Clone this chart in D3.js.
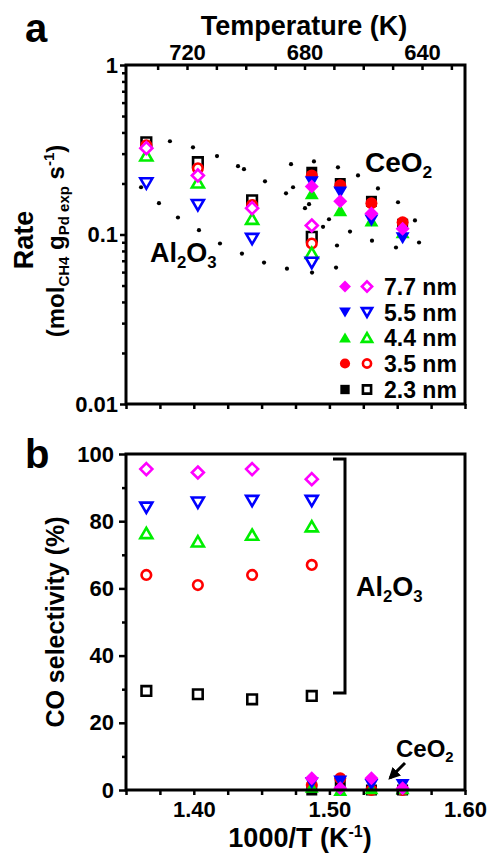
<!DOCTYPE html>
<html><head><meta charset="utf-8">
<script src="https://cdn.jsdelivr.net/npm/d3@7"></script>
<style>
body{margin:0;background:#fff}
svg{display:block}
text{font-family:"Liberation Sans",Arial,Helvetica,sans-serif;font-weight:bold;fill:#000}
</style>
</head><body>
<svg id="chart" width="491" height="855"></svg>
<script>
// ---------- DATA ----------
const xAl = [1.365, 1.403, 1.443, 1.487];          // 1000/T, Pd/Al2O3 (open symbols)
const xCe = [1.487, 1.508, 1.531, 1.554];          // 1000/T, Pd/CeO2 (filled symbols)
const sizeLabels = ["7.7 nm", "5.5 nm", "4.4 nm", "3.5 nm", "2.3 nm"];

// Rate (mol CH4 / g Pd exp / s)
const rateAl_77 = [0.323, 0.223, 0.143, 0.113];
const rateAl_55 = [0.200, 0.149, 0.094, 0.068];
const rateAl_44 = [0.293, 0.203, 0.124, 0.078];
const rateAl_35 = [0.336, 0.246, 0.149, 0.0885];
const rateAl_23 = [0.350, 0.267, 0.159, 0.097];
const rateCe_77 = [0.192, 0.157, 0.133, 0.108];
const rateCe_55 = [0.203, 0.177, 0.121, 0.095];
const rateCe_44 = [0.175, 0.139, 0.121, 0.103];
const rateCe_35 = [0.223, 0.195, 0.153, 0.118];
const rateCe_23 = [0.233, 0.200, 0.157, 0.115];

// CO selectivity (%)
const selAl_77 = [95.5, 94.5, 95.5, 92.5];
const selAl_55 = [84.0, 85.5, 86.0, 86.0];
const selAl_44 = [76.5, 74.0, 76.0, 78.5];
const selAl_35 = [64.0, 61.0, 64.0, 67.0];
const selAl_23 = [29.5, 28.5, 27.0, 28.0];
const selCe_77 = [3.5, 0.5, 3.5, 0.5];
const selCe_55 = [2.0, 2.5, 1.5, 1.5];
const selCe_44 = [1.0, 0.0, 0.5, 0.5];
const selCe_35 = [1.5, 3.5, 0.0, 0.0];
const selCe_23 = [0.0, 2.0, 0.0, 0.0];

// dotted guide curves in the rate panel (1000/T, rate)
const guideAlUpperX = [1.3824, 1.3994, 1.4171, 1.4326, 1.4370, 1.4525, 1.4680, 1.4820, 1.4953, 1.5056];
const guideAlUpperY = [0.355, 0.327, 0.290, 0.253, 0.243, 0.206, 0.175, 0.143, 0.111, 0.0861];
const guideAlLowerX = [1.3611, 1.3743, 1.3883, 1.4038, 1.4193, 1.4355, 1.4518, 1.4687, 1.4872, 1.5049];
const guideAlLowerY = [0.190, 0.153, 0.126, 0.106, 0.0885, 0.0772, 0.0683, 0.0629, 0.0596, 0.0638];
const guideCeUpperX = [1.4717, 1.4886, 1.5063, 1.5211, 1.5358, 1.5506, 1.5631, 1.5661];
const guideCeUpperY = [0.260, 0.270, 0.249, 0.223, 0.187, 0.155, 0.121, 0.0897];
const guideCeLowerX = [1.4732, 1.4850, 1.4997, 1.5152, 1.5314, 1.5491];
const guideCeLowerY = [0.190, 0.151, 0.123, 0.104, 0.092, 0.0838];

// axis ticks
const xTicksMinor = [1.35, 1.375, 1.40, 1.425, 1.45, 1.475, 1.50, 1.525, 1.55, 1.575, 1.60];
const xTickLabels = [1.40, 1.50, 1.60];
const tempTicks = [730, 720, 710, 700, 690, 680, 670, 660, 650, 640, 630];
const tempTickLabels = [720, 680, 640];
const rateTickLabels = [1, 0.1, 0.01];
const selTicks = [0, 10, 20, 30, 40, 50, 60, 70, 80, 90, 100];
const selTickLabels = [0, 20, 40, 60, 80, 100];

// ---------- STYLE ----------
const colors = ["#ff00ff", "#0000ff", "#00ee00", "#ff0000", "#000000"];
const shapes = ["diamond", "tridown", "triup", "circle", "square"];
const ratesAl = [rateAl_77, rateAl_55, rateAl_44, rateAl_35, rateAl_23];
const ratesCe = [rateCe_77, rateCe_55, rateCe_44, rateCe_35, rateCe_23];
const selsAl = [selAl_77, selAl_55, selAl_44, selAl_35, selAl_23];
const selsCe = [selCe_77, selCe_55, selCe_44, selCe_35, selCe_23];

const svg = d3.select("#chart");
const L = 126, R = 465;
const x = d3.scaleLinear().domain([1.35, 1.60]).range([L, R]);
const yRate = d3.scaleLog().domain([0.01, 1]).range([404, 65]);
const ySel = d3.scaleLinear().domain([0, 100]).range([790, 454]);
const tScale = d3.scaleLinear().domain([720, 640]).range([187, 422]);

function mpath(shape, s) {
  const h = s * 0.86;
  switch (shape) {
    case "diamond": return `M0,${-s}L${s},0L0,${s}L${-s},0Z`;
    case "square": return `M${-s},${-s}H${s}V${s}H${-s}Z`;
    case "circle": return `M${s},0A${s},${s} 0 1,1 ${-s},0A${s},${s} 0 1,1 ${s},0Z`;
    case "triup": return `M0,${-h}L${s},${h}L${-s},${h}Z`;
    case "tridown": return `M0,${h}L${s},${-h}L${-s},${-h}Z`;
  }
}
const filledSize = {diamond: 7, square: 5.5, circle: 6, triup: 7, tridown: 7};
const openSize = {diamond: 6, square: 4.8, circle: 4.8, triup: 6, tridown: 6};

function drawMarker(g, cx, cy, i, filled, scale = 1) {
  const sh = shapes[i];
  const s = (filled ? filledSize[sh] : openSize[sh]) * scale;
  g.append("path")
    .attr("d", mpath(sh, s))
    .attr("transform", `translate(${cx},${cy})`)
    .attr("fill", filled ? colors[i] : "#fff")
    .attr("stroke", filled ? "none" : colors[i])
    .attr("stroke-width", filled ? 0 : 2.6)
    .attr("stroke-linejoin", "miter");
}

// ---------- PANEL A ----------
const gA = svg.append("g");

// guide dots
[[guideAlUpperX, guideAlUpperY], [guideAlLowerX, guideAlLowerY],
 [guideCeUpperX, guideCeUpperY], [guideCeLowerX, guideCeLowerY]].forEach(([gx, gy]) => {
  gx.forEach((v, k) => {
    gA.append("circle").attr("cx", x(v)).attr("cy", yRate(gy[k])).attr("r", 2.1).attr("fill", "#000");
  });
});

// markers (draw black first, magenta on top)
for (let i = 4; i >= 0; i--) {
  xAl.forEach((v, k) => drawMarker(gA, x(v), yRate(ratesAl[i][k]), i, false));
}
for (let i = 4; i >= 0; i--) {
  xCe.forEach((v, k) => drawMarker(gA, x(v), yRate(ratesCe[i][k]), i, true));
}

// frame
gA.append("rect").attr("x", L).attr("y", 65).attr("width", R - L).attr("height", 404 - 65)
  .attr("fill", "none").attr("stroke", "#000").attr("stroke-width", 3);

// top temperature axis
const tAxis = d3.axisTop(tScale).tickValues(tempTicks).tickSize(-5).tickPadding(5)
  .tickFormat(d => tempTickLabels.includes(d) ? d : "");
const gT = gA.append("g").attr("transform", "translate(0,65)").call(tAxis);
gT.select(".domain").remove();
gT.selectAll(".tick line").attr("stroke-width", 2.5);
gT.selectAll("text").style("font-size", "22px").filter(function () { return !this.textContent; }).remove();

// bottom ticks of panel a
const gAb = gA.append("g").attr("transform", "translate(0,404)")
  .call(d3.axisBottom(x).tickValues(xTicksMinor).tickSize(5).tickFormat(""));
gAb.select(".domain").remove();
gAb.selectAll("text").remove();
gAb.selectAll(".tick line").attr("stroke-width", 2.5);

// left log axis
const minorLog = [];
[0.01, 0.1].forEach(dec => { for (let m = 2; m <= 9; m++) minorLog.push(dec * m); });
const gAl = gA.append("g").attr("transform", `translate(${L},0)`)
  .call(d3.axisLeft(yRate).tickValues(rateTickLabels).tickSize(6).tickPadding(2)
    .tickFormat(d => String(d)));
gAl.select(".domain").remove();
gAl.selectAll(".tick line").attr("stroke-width", 2.5);
gAl.selectAll("text").style("font-size", "22px");
const gAm = gA.append("g").attr("transform", `translate(${L},0)`)
  .call(d3.axisLeft(yRate).tickValues(minorLog).tickSize(4).tickFormat(""));
gAm.select(".domain").remove();
gAm.selectAll("text").remove();
gAm.selectAll(".tick line").attr("stroke-width", 2.5);

// titles
svg.append("text").attr("x", 25).attr("y", 42).style("font-size", "40px").text("a");
svg.append("text").attr("x", 304).attr("y", 35).attr("text-anchor", "middle")
  .style("font-size", "27px").text("Temperature (K)");

svg.append("text").attr("transform", "translate(33,240) rotate(-90)")
  .attr("text-anchor", "middle").style("font-size", "27px").text("Rate");
const rt = svg.append("text").attr("transform", "translate(64,241) rotate(-90)")
  .attr("text-anchor", "middle").style("font-size", "24px");
rt.append("tspan").style("font-size", "24px").text("(mol");
rt.append("tspan").attr("dy", 5).style("font-size", "15px").text("CH4");
rt.append("tspan").attr("dy", -5).style("font-size", "24px").text(" g");
rt.append("tspan").attr("dy", 5).style("font-size", "15px").text("Pd exp");
rt.append("tspan").attr("dy", -5).style("font-size", "24px").text(" s");
rt.append("tspan").attr("dy", -10).style("font-size", "15px").text("-1");
rt.append("tspan").attr("dy", 10).style("font-size", "24px").text(")");

// chemical formula with subscripts
function chem(g, xx, yy, parts, size) {
  const t = g.append("text").attr("x", xx).attr("y", yy).style("font-size", size + "px");
  const sh = size * 0.22;
  let prevSub = false;
  parts.forEach(([s, sub]) => {
    let dy = 0;
    if (sub && !prevSub) dy = sh;
    if (!sub && prevSub) dy = -sh;
    t.append("tspan").attr("dy", dy).style("font-size", (sub ? size * 0.62 : size) + "px").text(s);
    prevSub = sub;
  });
  return t;
}
chem(gA, 150, 262, [["Al", false], ["2", true], ["O", false], ["3", true]], 27);
chem(gA, 365, 172, [["CeO", false], ["2", true]], 28);

// legend
const legY = [286.5, 312.5, 337.5, 363.5, 389.5];
sizeLabels.forEach((lab, i) => {
  drawMarker(gA, 345, legY[i], i, true, 0.85);
  drawMarker(gA, 367, legY[i], i, false, 0.85);
  gA.append("text").attr("x", 384).attr("y", legY[i] + 8).style("font-size", "23px").text(lab);
});

// ---------- PANEL B ----------
const gB = svg.append("g");
for (let i = 4; i >= 0; i--) {
  xAl.forEach((v, k) => drawMarker(gB, x(v), ySel(selsAl[i][k]), i, false));
}
for (let i = 4; i >= 0; i--) {
  xCe.forEach((v, k) => drawMarker(gB, x(v), ySel(selsCe[i][k]), i, true));
}

gB.append("rect").attr("x", L).attr("y", 454).attr("width", R - L).attr("height", 790 - 454)
  .attr("fill", "none").attr("stroke", "#000").attr("stroke-width", 3);

const gBx = gB.append("g").attr("transform", "translate(0,790)")
  .call(d3.axisBottom(x).tickValues(xTicksMinor).tickSize(5).tickPadding(6)
    .tickFormat(d => xTickLabels.some(t => Math.abs(t - d) < 1e-9) ? d.toFixed(2) : ""));
gBx.select(".domain").remove();
gBx.selectAll(".tick line").attr("stroke-width", 2.5);
gBx.selectAll("text").style("font-size", "22px").filter(function () { return !this.textContent; }).remove();

const gBy = gB.append("g").attr("transform", `translate(${L},0)`)
  .call(d3.axisLeft(ySel).tickValues(selTicks).tickSize(6).tickPadding(6)
    .tickFormat(d => selTickLabels.includes(d) ? d : ""));
gBy.select(".domain").remove();
gBy.selectAll(".tick line").attr("stroke-width", 2.5)
  .attr("x2", d => selTickLabels.includes(d) ? -7 : -4);
gBy.selectAll("text").style("font-size", "22px").filter(function () { return !this.textContent; }).remove();

svg.append("text").attr("x", 25).attr("y", 468).style("font-size", "40px").text("b");
svg.append("text").attr("transform", "translate(64,622) rotate(-90)")
  .attr("text-anchor", "middle").style("font-size", "25px").text("CO selectivity (%)");
const xt = svg.append("text").attr("x", 300).attr("y", 847).attr("text-anchor", "middle")
  .style("font-size", "27px");
xt.append("tspan").style("font-size", "27px").text("1000/T (K");
xt.append("tspan").attr("dy", -10).style("font-size", "16px").text("-1");
xt.append("tspan").attr("dy", 10).style("font-size", "27px").text(")");

// bracket for Al2O3
gB.append("path")
  .attr("d", `M333,459H345V693H333`)
  .attr("fill", "none").attr("stroke", "#000").attr("stroke-width", 3);
chem(gB, 356, 596, [["Al", false], ["2", true], ["O", false], ["3", true]], 27);
chem(gB, 396, 757, [["CeO", false], ["2", true]], 24);

// arrow
svg.append("defs").append("marker").attr("id", "ah").attr("viewBox", "0 0 10 10")
  .attr("refX", 8).attr("refY", 5).attr("markerWidth", 4).attr("markerHeight", 4)
  .attr("orient", "auto").append("path").attr("d", "M0,0L10,5L0,10Z").attr("fill", "#000");
gB.append("line").attr("x1", 405).attr("y1", 763).attr("x2", 390).attr("y2", 778)
  .attr("stroke", "#000").attr("stroke-width", 3).attr("marker-end", "url(#ah)");
</script>
</body></html>
